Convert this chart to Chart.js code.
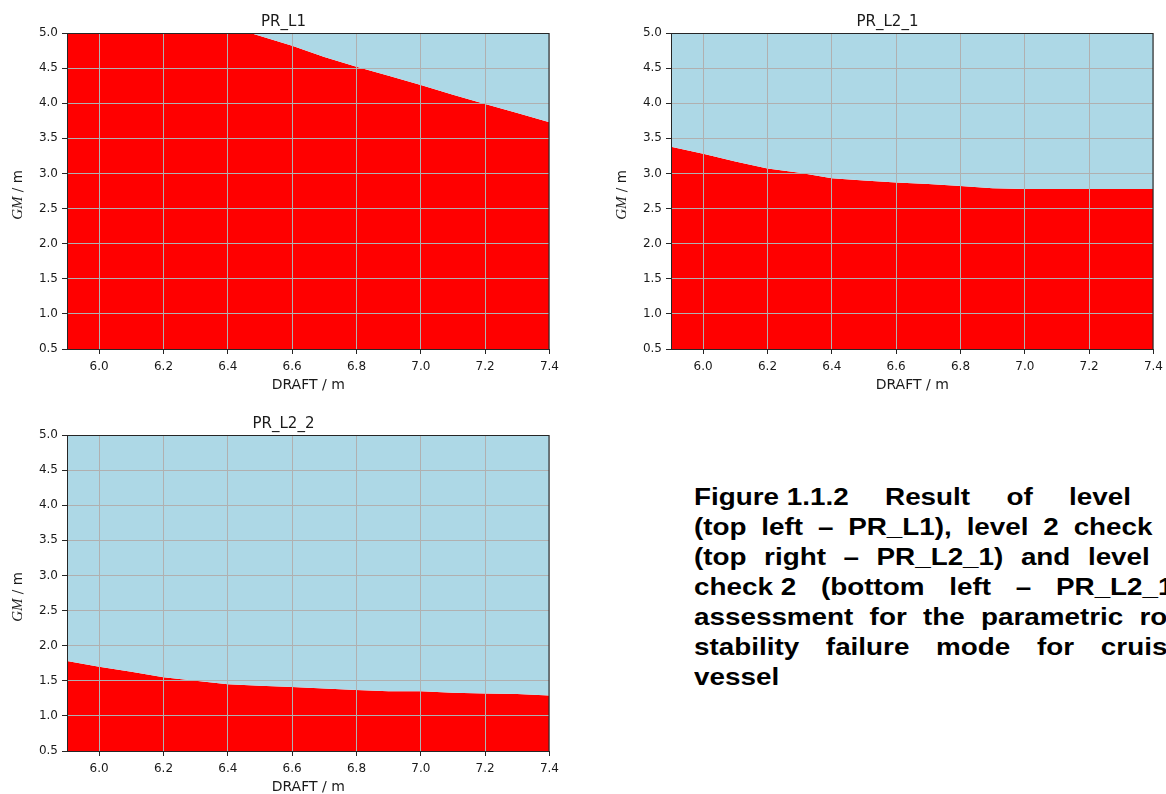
<!DOCTYPE html>
<html>
<head>
<meta charset="utf-8">
<script src="https://cdn.jsdelivr.net/npm/chart.js@4/dist/chart.umd.min.js"></script>
<style>
  html, body { margin: 0; padding: 0; background: #fff; width: 1166px; height: 794px; overflow: hidden; position: relative; }
  canvas { position: absolute; }
  #caption {
    position: absolute; left: 694px; top: 482px; width: 404px;
    font: bold 23px "Liberation Sans", Arial, sans-serif; line-height: 30px; color: #000;
    transform: scaleX(1.21); transform-origin: 0 0;
  }
  #caption div { text-align: justify; text-align-last: justify; white-space: nowrap; }
  #caption div.last { text-align-last: left; }
  #caption .nj { display: inline-block; }
</style>
</head>
<body>
<canvas id="chartL1" width="555" height="383" style="left:10px;top:11px"></canvas>
<canvas id="chartL21" width="555" height="383" style="left:614px;top:11px"></canvas>
<canvas id="chartL22" width="555" height="383" style="left:10px;top:413px"></canvas>

<div id="caption">
  <div><span class="nj">Figure 1.1.2</span> Result of level 1</div>
  <div>(top left – PR_L1), level 2 check 1</div>
  <div>(top right – PR_L2_1) and level 2</div>
  <div><span class="nj">check 2</span> (bottom left – PR_L2_1)</div>
  <div>assessment for the parametric roll</div>
  <div>stability failure mode for cruise</div>
  <div class="last">vessel</div>
</div>

<script>
// Tick positions shared by all three panels
const draftTicks = [6.0, 6.2, 6.4, 6.6, 6.8, 7.0, 7.2, 7.4];
const gmTicks = [0.5, 1.0, 1.5, 2.0, 2.5, 3.0, 3.5, 4.0, 4.5, 5.0];

// Level 1 limiting GM over draft (red = fails, blue = passes)
const draftL1 = [5.9, 6.47, 6.6, 6.7, 6.8, 6.9, 7.0, 7.1, 7.2, 7.3, 7.4];
const gmL1 = [5.0, 5.0, 4.82, 4.66, 4.52, 4.39, 4.26, 4.12, 3.99, 3.86, 3.73];

// Level 2 checks on a 0.1 m draft grid
const draftL2 = [5.9, 6.0, 6.1, 6.2, 6.3, 6.4, 6.5, 6.6, 6.7, 6.8, 6.9, 7.0, 7.1, 7.2, 7.3, 7.4];
const gmL2_1 = [3.38, 3.28, 3.17, 3.07, 3.01, 2.93, 2.90, 2.87, 2.85, 2.82, 2.79, 2.78, 2.78, 2.78, 2.78, 2.78];
const gmL2_2 = [1.78, 1.70, 1.63, 1.55, 1.50, 1.45, 1.43, 1.41, 1.39, 1.37, 1.35, 1.35, 1.33, 1.32, 1.31, 1.29];

const SAFE = '#add8e6';
const FAIL = '#ff0000';
const GRID = '#b0b0b0';
const SPINE = '#262626';
const TEXT = '#1a1a1a';
const TICK_FONT = { family: 'DejaVu Sans', size: 12 };

// Full box around the plot area plus the "GM / m" label (italic GM)
const framePlugin = {
  id: 'frame',
  afterDraw(chart) {
    const { ctx, chartArea: a } = chart;
    ctx.save();
    ctx.strokeStyle = SPINE;
    ctx.lineWidth = 1;
    ctx.strokeRect(a.left + 0.5, a.top + 0.5, a.right - a.left - 1, a.bottom - a.top);

    ctx.translate(a.left - 49, (a.top + a.bottom) / 2 + 4);
    ctx.rotate(-Math.PI / 2);
    ctx.fillStyle = TEXT;
    ctx.textBaseline = 'middle';
    const gm = 'GM';
    const rest = ' / m';
    ctx.font = 'italic 15px "Liberation Serif"';
    const wGm = ctx.measureText(gm).width;
    ctx.font = '13.5px "DejaVu Sans"';
    const wRest = ctx.measureText(rest).width;
    const x = -(wGm + wRest) / 2;
    ctx.font = 'italic 15px "Liberation Serif"';
    ctx.fillText(gm, x, 0);
    ctx.font = '13.5px "DejaVu Sans"';
    ctx.fillText(rest, x + wGm, 0);
    ctx.restore();
  }
};

function toPoints(xs, ys) {
  return xs.map((x, i) => ({ x: x, y: ys[i] }));
}

function makeChart(id, title, drafts, gms) {
  const pts = toPoints(drafts, gms);
  return new Chart(document.getElementById(id), {
    type: 'line',
    data: {
      datasets: [
        { data: pts, fill: 'end', backgroundColor: SAFE, borderWidth: 0, pointRadius: 0 },
        { data: pts, fill: 'start', backgroundColor: FAIL, borderWidth: 0, pointRadius: 0 }
      ]
    },
    options: {
      responsive: false,
      animation: false,
      devicePixelRatio: 1,
      layout: { padding: { left: 0, right: 8, top: 2, bottom: 0 } },
      plugins: {
        legend: { display: false },
        tooltip: { enabled: false },
        title: {
          display: true, text: title, color: TEXT,
          font: { family: 'DejaVu Sans', size: 15, weight: 'normal', lineHeight: 1.2 },
          padding: { top: 0, bottom: 2 }
        }
      },
      scales: {
        x: {
          type: 'linear', min: 5.9, max: 7.4, z: 1,
          afterBuildTicks: (axis) => { axis.ticks = draftTicks.map(v => ({ value: v })); },
          afterFit: (axis) => { axis.height = 45; },
          grid: { z: 1, color: GRID, lineWidth: 1, tickLength: 5, tickColor: SPINE },
          border: { z: 2, color: SPINE, width: 1 },
          ticks: { color: TEXT, font: TICK_FONT, padding: 6, maxRotation: 0,
                   callback: (v) => v.toFixed(1) },
          title: { display: true, text: 'DRAFT / m', color: TEXT,
                   font: { family: 'DejaVu Sans', size: 14 }, padding: { top: 0, bottom: 0 } }
        },
        y: {
          type: 'linear', min: 0.5, max: 5.0, z: 1,
          afterBuildTicks: (axis) => { axis.ticks = gmTicks.map(v => ({ value: v })); },
          afterFit: (axis) => { axis.width = 57; },
          grid: { z: 1, color: GRID, lineWidth: 1, tickLength: 5, tickColor: SPINE },
          border: { z: 2, color: SPINE, width: 1 },
          ticks: { color: TEXT, font: TICK_FONT, padding: 4,
                   callback: (v) => v.toFixed(1) }
        }
      }
    },
    plugins: [framePlugin]
  });
}

makeChart('chartL1', 'PR_L1', draftL1, gmL1);
makeChart('chartL21', 'PR_L2_1', draftL2, gmL2_1);
makeChart('chartL22', 'PR_L2_2', draftL2, gmL2_2);
</script>
</body>
</html>
